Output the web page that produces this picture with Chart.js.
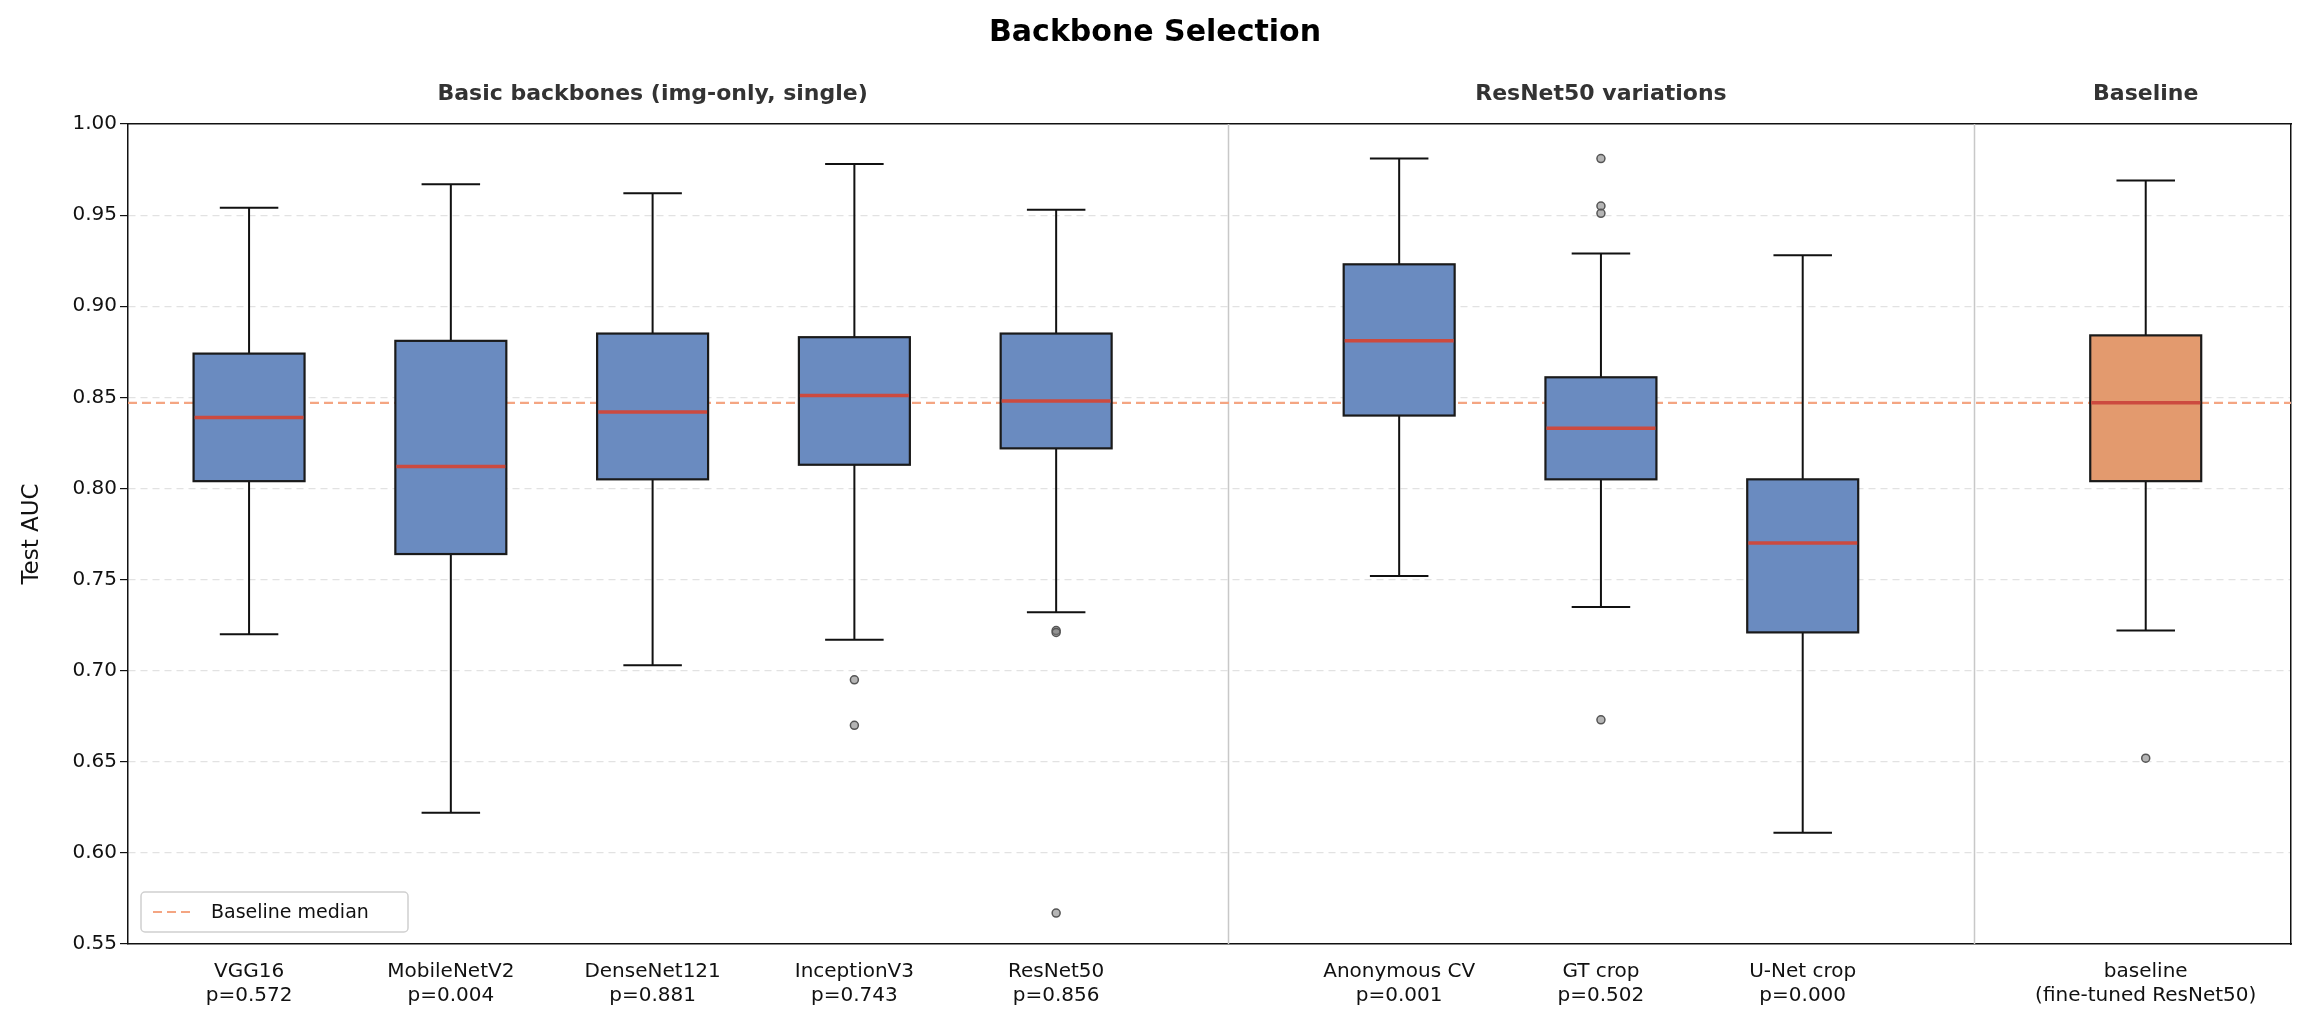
<!DOCTYPE html>
<html>
<head>
<meta charset="utf-8">
<script src="https://cdn.jsdelivr.net/npm/chart.js@4.4.0/dist/chart.umd.min.js"></script>
<style>
  body { margin: 0; background: #fff; }
  #wrap { width: 2309px; height: 1033px; }
</style>
</head>
<body>
<div id="wrap"><canvas id="c" width="2309" height="1033"></canvas></div>
<script>
// box-plot data
var names = ["VGG16", "MobileNetV2", "DenseNet121", "InceptionV3", "ResNet50", "Anonymous CV", "GT crop", "U-Net crop", "baseline"];
var pvals = ["p=0.572", "p=0.004", "p=0.881", "p=0.743", "p=0.856", "p=0.001", "p=0.502", "p=0.000", "(fine-tuned ResNet50)"];
var xPos = [1, 2, 3, 4, 5, 6.7, 7.7, 8.7, 10.4];
var whiskLo = [0.720, 0.622, 0.703, 0.717, 0.732, 0.752, 0.735, 0.611, 0.722];
var q1 = [0.804, 0.764, 0.805, 0.813, 0.822, 0.840, 0.805, 0.721, 0.804];
var medians = [0.839, 0.812, 0.842, 0.851, 0.848, 0.881, 0.833, 0.770, 0.847];
var q3 = [0.874, 0.881, 0.885, 0.883, 0.885, 0.923, 0.861, 0.805, 0.884];
var whiskHi = [0.954, 0.967, 0.962, 0.978, 0.953, 0.981, 0.929, 0.928, 0.969];
var outliers = [
  [], [], [], [0.695, 0.670], [0.722, 0.721, 0.567], [], [0.981, 0.955, 0.951, 0.673], [], [0.652]
];
var boxColors = ["#6a8bc0", "#6a8bc0", "#6a8bc0", "#6a8bc0", "#6a8bc0", "#6a8bc0", "#6a8bc0", "#6a8bc0", "#e39a6e"];
var baselineMedian = 0.847;
var groups = [
  { label: "Basic backbones (img-only, single)", x: 3 },
  { label: "ResNet50 variations", x: 7.7 },
  { label: "Baseline", x: 10.4 }
];
var separators = [5.85, 9.55];
var yTicks = [0.55, 0.60, 0.65, 0.70, 0.75, 0.80, 0.85, 0.90, 0.95, 1.00];
var X_MIN = 0.4, X_MAX = 11.12;

var outlierPts = [];
outliers.forEach(function (arr, i) {
  arr.forEach(function (v) { outlierPts.push({ x: xPos[i], y: v }); });
});

var boxPlugin = {
  id: "boxes",
  beforeDatasetsDraw: function (chart) {
    var ctx = chart.ctx, xs = chart.scales.x, a = chart.chartArea;
    ctx.save();
    ctx.strokeStyle = "#c8c8c8";
    ctx.lineWidth = 1.5;
    separators.forEach(function (s) {
      var px = Math.round(xs.getPixelForValue(s)) + 0.5;
      ctx.beginPath(); ctx.moveTo(px, a.top); ctx.lineTo(px, a.bottom); ctx.stroke();
    });
    ctx.restore();
  },
  afterDatasetsDraw: function (chart) {
    var ctx = chart.ctx, xs = chart.scales.x, ys = chart.scales.y;
    ctx.save();
    names.forEach(function (n, i) {
      var xl = xs.getPixelForValue(xPos[i] - 0.275), xr = xs.getPixelForValue(xPos[i] + 0.275);
      var xc = xs.getPixelForValue(xPos[i]);
      var cl = xs.getPixelForValue(xPos[i] - 0.145), cr = xs.getPixelForValue(xPos[i] + 0.145);
      var yq1 = ys.getPixelForValue(q1[i]), yq3 = ys.getPixelForValue(q3[i]);
      var ylo = ys.getPixelForValue(whiskLo[i]), yhi = ys.getPixelForValue(whiskHi[i]);
      var ym = ys.getPixelForValue(medians[i]);
      ctx.strokeStyle = "#111";
      ctx.lineWidth = 2;
      ctx.beginPath();
      ctx.moveTo(xc, yq3); ctx.lineTo(xc, yhi);
      ctx.moveTo(cl, yhi); ctx.lineTo(cr, yhi);
      ctx.moveTo(xc, yq1); ctx.lineTo(xc, ylo);
      ctx.moveTo(cl, ylo); ctx.lineTo(cr, ylo);
      ctx.stroke();
      ctx.fillStyle = boxColors[i];
      ctx.fillRect(xl, yq3, xr - xl, yq1 - yq3);
      ctx.strokeStyle = "#1a1a1a";
      ctx.lineWidth = 2.2;
      ctx.strokeRect(xl, yq3, xr - xl, yq1 - yq3);
      ctx.strokeStyle = "#cc4a3f";
      ctx.lineWidth = 3.5;
      ctx.beginPath(); ctx.moveTo(xl + 1, ym); ctx.lineTo(xr - 1, ym); ctx.stroke();
    });
    // group headers and title
    ctx.fillStyle = "#333";
    ctx.textAlign = "center";
    ctx.textBaseline = "middle";
    ctx.font = "bold 22px 'DejaVu Sans'";
    groups.forEach(function (g) {
      ctx.fillText(g.label, xs.getPixelForValue(g.x), 94);
    });
    ctx.fillStyle = "#000";
    ctx.font = "bold 30px 'DejaVu Sans'";
    ctx.fillText("Backbone Selection", 1155, 33);
    // legend
    var lx = 141, ly = 892;
    ctx.fillStyle = "rgba(255,255,255,0.85)";
    ctx.strokeStyle = "#d0d0d0";
    ctx.lineWidth = 1.5;
    ctx.beginPath();
    ctx.roundRect(lx, ly, 267, 40, 4);
    ctx.fill(); ctx.stroke();
    ctx.strokeStyle = "#f4a582";
    ctx.lineWidth = 2.2;
    ctx.setLineDash([9, 5]);
    ctx.beginPath(); ctx.moveTo(lx + 12, ly + 20); ctx.lineTo(lx + 52, ly + 20); ctx.stroke();
    ctx.setLineDash([]);
    ctx.fillStyle = "#111";
    ctx.textAlign = "left";
    ctx.font = "19px 'DejaVu Sans'";
    ctx.fillText("Baseline median", lx + 70, ly + 21);
    ctx.restore();
  }
};

new Chart(document.getElementById("c"), {
  type: "scatter",
  data: {
    datasets: [
      {
        type: "line",
        label: "Baseline median",
        data: [{ x: X_MIN, y: baselineMedian }, { x: X_MAX, y: baselineMedian }],
        borderColor: "#f4a582",
        borderWidth: 2.2,
        borderDash: [9, 5],
        pointRadius: 0
      },
      {
        label: "outliers",
        data: outlierPts,
        pointRadius: 4,
        backgroundColor: "rgba(120,120,120,0.55)",
        borderColor: "#555",
        borderWidth: 1.5
      }
    ]
  },
  options: {
    responsive: false,
    animation: false,
    devicePixelRatio: 1,
    layout: { padding: { top: 124, right: 18, left: 14, bottom: 0 } },
    plugins: { legend: { display: false }, title: { display: false }, tooltip: { enabled: false } },
    scales: {
      x: {
        type: "linear",
        min: X_MIN,
        max: X_MAX,
        afterBuildTicks: function (s) { s.ticks = xPos.map(function (v) { return { value: v }; }); },
        afterFit: function (s) { s.height = 89; },
        ticks: {
          autoSkip: false,
          maxRotation: 0,
          padding: 8,
          color: "#111",
          font: { size: 20, family: "DejaVu Sans" },
          callback: function (v) {
            var i = xPos.indexOf(v);
            return i < 0 ? "" : [names[i], pvals[i]];
          }
        },
        grid: { display: false, drawTicks: true, tickLength: 8 },
        border: { color: "#111", width: 1.5 }
      },
      y: {
        min: 0.55,
        max: 1.0,
        afterBuildTicks: function (s) { s.ticks = yTicks.map(function (v) { return { value: v }; }); },
        afterFit: function (s) { s.width = 114; },
        title: { display: true, text: "Test AUC", color: "#111", font: { size: 23, family: "DejaVu Sans" } },
        ticks: {
          color: "#111",
          font: { size: 20, family: "DejaVu Sans" },
          callback: function (v) { return v.toFixed(2); }
        },
        grid: {
          color: function (c) { return c.tick && (c.tick.value === 1.0 || c.tick.value === 0.55) ? "rgba(0,0,0,0)" : "#e2e2e2"; },
          lineWidth: 1.2,
          tickLength: 8,
          tickColor: "#111"
        },
        border: { color: "#111", width: 1.5, dash: [7, 5] }
      },
      y2: {
        position: "right",
        min: 0, max: 1,
        ticks: { display: false },
        grid: { display: false },
        border: { color: "#111", width: 1.5 },
        afterFit: function (s) { s.width = 0; }
      },
      x2: {
        type: "linear",
        position: "top",
        min: 0, max: 1,
        ticks: { display: false },
        grid: { display: false },
        border: { color: "#111", width: 1.5 },
        afterFit: function (s) { s.height = 0; }
      }
    }
  },
  plugins: [boxPlugin]
});
</script>
</body>
</html>
